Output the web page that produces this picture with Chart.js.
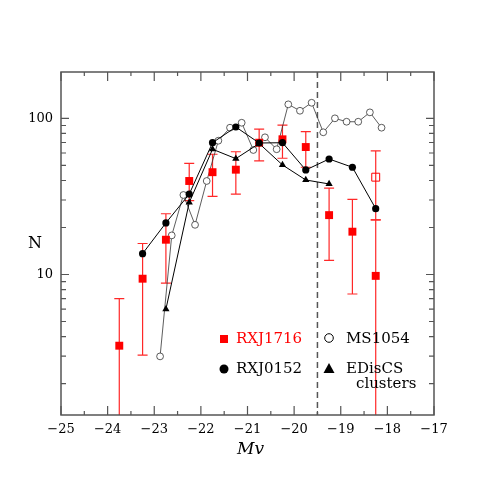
<!DOCTYPE html>
<html>
<head>
<meta charset="utf-8">
<script src="https://cdn.jsdelivr.net/npm/chart.js@4/dist/chart.umd.min.js"></script>
<style>
  html, body { margin: 0; padding: 0; background: #fff; }
  #wrap { width: 491px; height: 491px; }
</style>
</head>
<body>
<div id="wrap"><canvas id="lf"></canvas></div>
<script>
// RXJ1716: red squares with error bars
const rxj1716Mag = [-23.75, -23.25, -22.75, -22.25, -21.75, -21.25, -20.75, -20.25, -19.75, -19.25, -18.75, -18.25];
const rxj1716N   = [3.5, 9.4, 16.7, 39.7, 45.2, 46.9, 69.8, 73.4, 65.5, 24.0, 18.8, 9.8];
const rxj1716Lo  = [0.5, 3.05, 8.8, 29.7, 31.6, 32.7, 53.4, 55.5, 48.6, 12.3, 7.5, 0.5];
const rxj1716Hi  = [7.0, 15.8, 24.5, 51.5, 58.9, 61.1, 85.4, 90.6, 82.1, 35.7, 30.3, 22.4];

// RXJ1716 open square (last bin)
const rxj1716OpenMag = [-18.25];
const rxj1716OpenN   = [42];
const rxj1716OpenLo  = [22.4];
const rxj1716OpenHi  = [61.8];

// RXJ0152: black filled circles
const rxj0152Mag = [-23.25, -22.75, -22.25, -21.75, -21.25, -20.75, -20.25, -19.75, -19.25, -18.75, -18.25];
const rxj0152N   = [13.6, 21.4, 32.7, 69.8, 88.0, 69.5, 69.8, 46.7, 54.9, 48.6, 26.4];

// EDisCS clusters: black triangles
const edisMag = [-22.75, -22.25, -21.75, -21.25, -20.75, -20.25, -19.75, -19.25];
const edisN   = [6.0, 28.9, 63.4, 55.2, 69.0, 50.3, 40.3, 38.0];

// MS1054: open circles
const ms1054Mag = [-22.875, -22.625, -22.375, -22.125, -21.875, -21.625, -21.375, -21.125, -20.875, -20.625,
                   -20.375, -20.125, -19.875, -19.625, -19.375, -19.125, -18.875, -18.625, -18.375, -18.125];
const ms1054N   = [2.99, 17.8, 32.3, 20.8, 39.7, 71.9, 87.1, 93.7, 62.7, 75.6,
                   63.4, 122.9, 111.8, 125.8, 81.4, 100, 95.1, 95.1, 109.2, 87.1];

// axis ticks
const xTicks = [-25, -24, -23, -22, -21, -20, -19, -18, -17];
const yTicks = [10, 100];
const limitMag = -19.5;

const SERIF = '"DejaVu Serif", "Liberation Serif", serif';

function toPoints(xs, ys) {
    return xs.map((x, i) => ({ x: x, y: ys[i] }));
}

// Error bar + kader + legenda
const framePlugin = {
    id: 'frame',
    beforeDatasetsDraw(chart) {
        const ctx = chart.ctx;
        const xs = chart.scales.x, ys = chart.scales.y;
        const area = chart.chartArea;
        ctx.save();
        ctx.beginPath();
        ctx.rect(area.left, area.top, area.right - area.left, area.bottom - area.top);
        ctx.clip();

        // garis putus-putus batas magnitudo
        ctx.strokeStyle = '#555';
        ctx.lineWidth = 1.5;
        ctx.setLineDash([6, 4]);
        const xl = xs.getPixelForValue(limitMag);
        ctx.beginPath();
        ctx.moveTo(xl, area.top);
        ctx.lineTo(xl, area.bottom);
        ctx.stroke();
        ctx.setLineDash([]);

        // error bars
        ctx.strokeStyle = 'rgb(255,40,40)';
        ctx.lineWidth = 1.2;
        const bars = (mags, lo, hi) => {
            mags.forEach((m, i) => {
                const px = xs.getPixelForValue(m);
                const y1 = ys.getPixelForValue(lo[i]);
                const y2 = ys.getPixelForValue(hi[i]);
                ctx.beginPath();
                ctx.moveTo(px, y1);
                ctx.lineTo(px, y2);
                ctx.moveTo(px - 5, y2);
                ctx.lineTo(px + 5, y2);
                ctx.moveTo(px - 5, y1);
                ctx.lineTo(px + 5, y1);
                ctx.stroke();
            });
        };
        bars(rxj1716Mag, rxj1716Lo, rxj1716Hi);
        bars(rxj1716OpenMag, rxj1716OpenLo, rxj1716OpenHi);
        ctx.restore();
    },
    afterDraw(chart) {
        const ctx = chart.ctx;
        const xs = chart.scales.x, ys = chart.scales.y;
        const a = chart.chartArea;
        ctx.save();

        // kotak
        ctx.strokeStyle = '#555';
        ctx.lineWidth = 1.5;
        ctx.strokeRect(a.left, a.top, a.right - a.left, a.bottom - a.top);

        // tick ke dalam, sumbu x
        ctx.lineWidth = 1.2;
        ctx.beginPath();
        for (let v = -25; v <= -17; v += 0.5) {
            const px = xs.getPixelForValue(v);
            const len = Number.isInteger(v) ? 9 : 4;
            ctx.moveTo(px, a.bottom);
            ctx.lineTo(px, a.bottom - len);
            ctx.moveTo(px, a.top);
            ctx.lineTo(px, a.top + len);
        }
        // tick ke dalam, sumbu y (log)
        [1, 10, 100].forEach(dec => {
            for (let k = 1; k <= 9; k++) {
                const v = dec * k;
                if (v < ys.min || v > ys.max) continue;
                const py = ys.getPixelForValue(v);
                const len = k === 1 ? 8 : 5;
                ctx.moveTo(a.left, py);
                ctx.lineTo(a.left + len, py);
                ctx.moveTo(a.right, py);
                ctx.lineTo(a.right - len, py);
            }
        });
        ctx.stroke();

        // judul sumbu
        ctx.fillStyle = '#000';
        ctx.font = '16px ' + SERIF;
        ctx.textAlign = 'center';
        ctx.textBaseline = 'middle';
        ctx.fillText('N', 35, (a.top + a.bottom) / 2);
        ctx.font = 'italic 17px ' + SERIF;
        ctx.fillText('Mv', (a.left + a.right) / 2 + 3, 450);

        // legenda
        ctx.font = '15px ' + SERIF;
        ctx.textAlign = 'left';
        ctx.fillStyle = 'red';
        ctx.fillRect(220, 335, 8, 8);
        ctx.fillText('RXJ1716', 236, 339);
        ctx.fillStyle = '#000';
        ctx.beginPath();
        ctx.arc(224, 369, 4.5, 0, Math.PI * 2);
        ctx.fill();
        ctx.fillText('RXJ0152', 236, 369);
        ctx.strokeStyle = '#000';
        ctx.lineWidth = 1;
        ctx.beginPath();
        ctx.arc(329, 338, 4.3, 0, Math.PI * 2);
        ctx.stroke();
        ctx.fillText('MS1054', 346, 339);
        ctx.beginPath();
        ctx.moveTo(329, 363);
        ctx.lineTo(334.5, 373);
        ctx.lineTo(323.5, 373);
        ctx.closePath();
        ctx.fill();
        ctx.fillText('EDisCS', 346, 369);
        ctx.fillText('clusters', 356, 384);
        ctx.restore();
    }
};

let lfChart;

function drawChart() {
    const ctx = document.getElementById('lf').getContext('2d');
    if (lfChart) lfChart.destroy();

    lfChart = new Chart(ctx, {
        type: 'line',
        data: {
            datasets: [
                {
                    label: 'RXJ0152',
                    data: toPoints(rxj0152Mag, rxj0152N),
                    borderColor: '#000',
                    borderWidth: 1,
                    backgroundColor: '#000',
                    pointStyle: 'circle',
                    pointRadius: 3.6,
                    pointBorderWidth: 0
                },
                {
                    label: 'EDisCS clusters',
                    data: toPoints(edisMag, edisN),
                    borderColor: '#000',
                    borderWidth: 1,
                    backgroundColor: '#000',
                    pointStyle: 'triangle',
                    pointRadius: 4.2,
                    pointBorderWidth: 0
                },
                {
                    label: 'RXJ1716',
                    data: toPoints(rxj1716Mag, rxj1716N),
                    showLine: false,
                    backgroundColor: 'red',
                    borderColor: 'red',
                    pointStyle: 'rect',
                    pointRadius: 5.6,
                    pointBorderWidth: 0
                },
                {
                    label: 'RXJ1716 (open)',
                    data: toPoints(rxj1716OpenMag, rxj1716OpenN),
                    showLine: false,
                    backgroundColor: 'rgba(0,0,0,0)',
                    borderColor: 'red',
                    pointStyle: 'rect',
                    pointRadius: 5.6,
                    pointBorderWidth: 1
                },
                {
                    label: 'MS1054',
                    data: toPoints(ms1054Mag, ms1054N),
                    borderColor: '#333',
                    borderWidth: 0.8,
                    backgroundColor: '#fff',
                    pointStyle: 'circle',
                    pointRadius: 3.4,
                    pointBorderWidth: 0.8
                }
            ]
        },
        options: {
            responsive: false,
            animation: false,
            layout: { padding: { top: 72, right: 57, left: 0, bottom: 0 } },
            plugins: { legend: { display: false }, tooltip: { enabled: false } },
            scales: {
                x: {
                    type: 'linear',
                    min: -25,
                    max: -17,
                    afterBuildTicks: s => { s.ticks = xTicks.map(v => ({ value: v })); },
                    afterFit: s => { s.height = 76; },
                    grid: { display: false, drawTicks: false },
                    border: { display: false },
                    ticks: {
                        padding: 7,
                        color: '#000',
                        maxRotation: 0,
                        font: { family: SERIF, size: 13 },
                        callback: v => (v < 0 ? '\u2212' + Math.abs(v) : String(v))
                    }
                },
                y: {
                    type: 'logarithmic',
                    min: 1.26,
                    max: 198,
                    afterBuildTicks: s => { s.ticks = yTicks.map(v => ({ value: v })); },
                    afterFit: s => { s.width = 61; },
                    grid: { display: false, drawTicks: false },
                    border: { display: false },
                    ticks: {
                        padding: 8,
                        color: '#000',
                        font: { family: SERIF, size: 13 },
                        callback: v => String(v)
                    }
                }
            }
        },
        plugins: [framePlugin]
    });
}

const cv = document.getElementById('lf');
cv.width = 491;
cv.height = 491;
drawChart();
</script>
</body>
</html>
